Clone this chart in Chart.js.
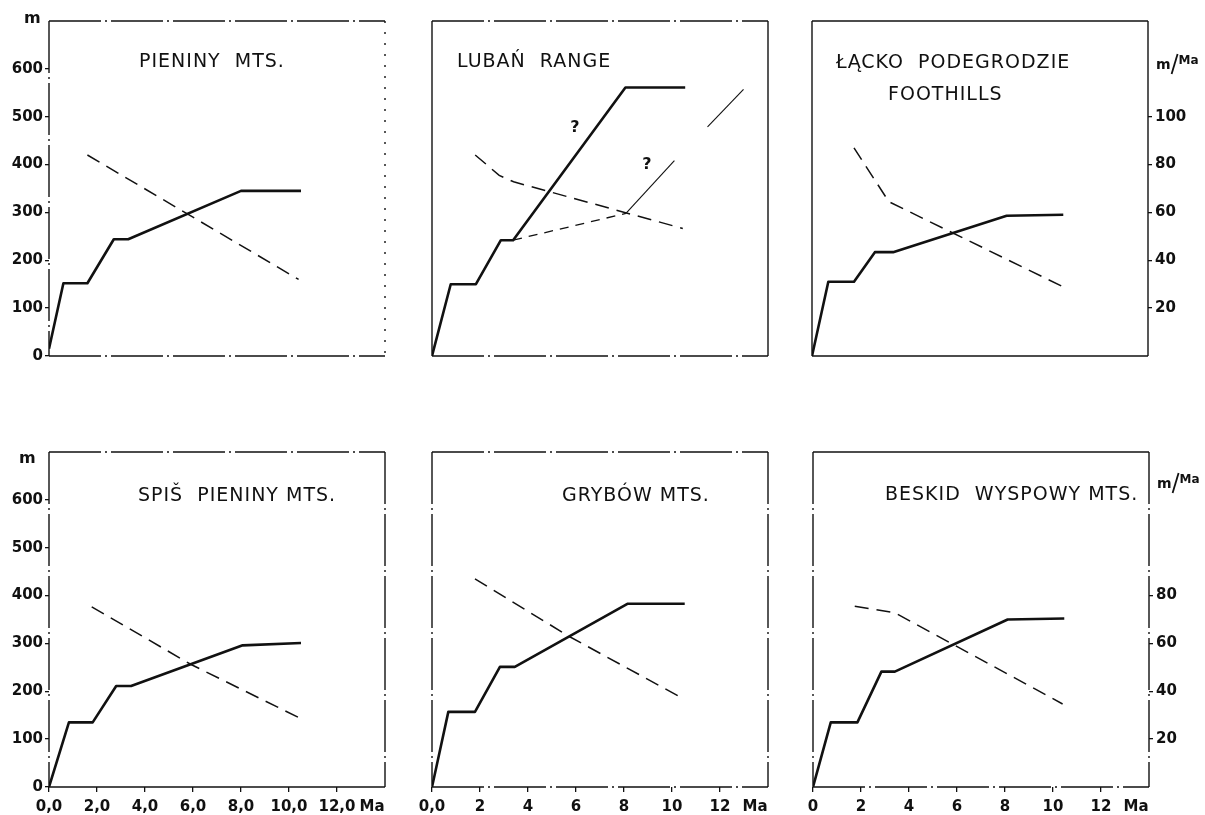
<!DOCTYPE html>
<html>
<head>
<meta charset="utf-8">
<title>Uplift and uplift rate of the Pieniny region</title>
<script src="https://cdn.jsdelivr.net/npm/chart.js@4.4.1/dist/chart.umd.min.js"></script>
<style>
  html, body { margin: 0; padding: 0; background: #fff; width: 1205px; height: 815px; overflow: hidden; }
  canvas { position: absolute; }
</style>
</head>
<body>
<canvas id="c1" width="442" height="388"></canvas>
<canvas id="c2" width="442" height="388"></canvas>
<canvas id="c3" width="442" height="388"></canvas>
<canvas id="c4" width="442" height="388"></canvas>
<canvas id="c5" width="442" height="388"></canvas>
<canvas id="c6" width="442" height="388"></canvas>
<script>
// ---- axis ticks (age in Ma, height in m, rate in m/Ma) ----
const ageTicks = [0, 2, 4, 6, 8, 10, 12];
const ageLabelsDecimal = ['0,0', '2,0', '4,0', '6,0', '8,0', '10,0', '12,0'];
const ageLabelsMixed = ['0,0', '2', '4', '6', '8', '10', '12'];
const ageLabelsInteger = ['0', '2', '4', '6', '8', '10', '12'];
const heightTicks = [0, 100, 200, 300, 400, 500, 600];
const rateTicksUpper = [20, 40, 60, 80, 100];
const rateTicksLower = [20, 40, 60, 80];

// ---- Pieniny Mts. ----
const pieninyAge = [0, 0.6, 1.6, 2.7, 3.3, 8.0, 10.5];
const pieninyHeight = [15, 152, 152, 244, 244, 345, 345];
const pieninyRateAge = [1.6, 10.4];
const pieninyRate = [84, 32];

// ---- Lubań Range ----
const lubanAge = [0, 0.78, 1.83, 2.87, 3.38, 8.06, 10.55];
const lubanHeight = [0, 150, 150, 242, 242, 561, 561];
const lubanRateAge = [1.8, 2.8, 3.4, 10.45];
const lubanRate = [84, 75.5, 72.8, 53.3];
const lubanAltAge = [3.38, 8.08];
const lubanAltHeight = [242, 298];
const lubanAltUpperAge = [8.08, 10.1, 11.48, 12.98];
const lubanAltUpperHeight = [298, 408, 479, 557];

// ---- Łącko-Podegrodzie Foothills ----
const lackoAge = [0, 0.68, 1.75, 2.62, 3.38, 8.11, 10.47];
const lackoHeight = [0, 155, 155, 217, 217, 293, 295];
const lackoRateAge = [1.75, 3.2, 10.44];
const lackoRate = [87, 64.5, 29];

// ---- Spiš Pieniny Mts. ----
const spisAge = [0, 0.83, 1.82, 2.8, 3.42, 8.07, 10.5];
const spisHeight = [0, 135, 135, 211, 211, 296, 301];
const spisRateAge = [1.78, 5.9, 10.53];
const spisRate = [75.3, 51.3, 28.4];

// ---- Grybów Mts. ----
const grybowAge = [0, 0.68, 1.79, 2.83, 3.45, 8.16, 10.53];
const grybowHeight = [0, 157, 157, 251, 251, 383, 383];
const grybowRateAge = [1.79, 5.7, 10.51];
const grybowRate = [87, 63, 36.7];

// ---- Beskid Wyspowy Mts. ----
const beskidAge = [0, 0.74, 1.85, 2.85, 3.41, 8.11, 10.47];
const beskidHeight = [0, 135, 135, 241, 241, 350, 352];
const beskidRateAge = [1.74, 3.41, 10.4];
const beskidRate = [75.5, 72.8, 34.7];

// ---- styling ----
const FONT = '"DejaVu Sans", "Liberation Sans", sans-serif';
const INK = '#111';
const SOLID = [];
const DASH_DOT = [52, 4, 2, 4];
const SPARSE = [2, 9];

function pts(xs, ys) { return xs.map((x, i) => ({ x: x, y: ys[i] })); }

const panels = [
  { canvas: 'c1', left: -1, top: -4,
    age: pieninyAge, height: pieninyHeight, rateAge: pieninyRateAge, rate: pieninyRate,
    heightLabels: true, ageLabels: null, rateTicks: null,
    titles: [{ text: 'PIENINY  MTS.', dx: 90, dy: 41 }],
    notes: [{ text: 'm', dx: -25, dy: -2 }],
    frame: { top: DASH_DOT, right: SPARSE, bottom: DASH_DOT, left: DASH_DOT } },
  { canvas: 'c2', left: 382, top: -4,
    age: lubanAge, height: lubanHeight, rateAge: lubanRateAge, rate: lubanRate,
    heightLabels: false, ageLabels: null, rateTicks: null,
    titles: [{ text: 'LUBAŃ  RANGE', dx: 25, dy: 41 }],
    notes: [{ text: '?', dx: 143, dy: 107, center: true }, { text: '?', dx: 215, dy: 144, center: true }],
    extra: true,
    frame: { top: DASH_DOT, right: SOLID, bottom: DASH_DOT, left: SOLID } },
  { canvas: 'c3', left: 762, top: -4,
    age: lackoAge, height: lackoHeight, rateAge: lackoRateAge, rate: lackoRate,
    heightLabels: false, ageLabels: null, rateTicks: rateTicksUpper,
    titles: [{ text: 'ŁĄCKO  PODEGRODZIE', dx: 24, dy: 42 }, { text: 'FOOTHILLS', dx: 76, dy: 74 }],
    notes: [], unit: { dx: 344, dy: 42 },
    frame: { top: SOLID, right: SOLID, bottom: SOLID, left: SOLID } },
  { canvas: 'c4', left: -1, top: 427,
    age: spisAge, height: spisHeight, rateAge: spisRateAge, rate: spisRate,
    heightLabels: true, ageLabels: ageLabelsDecimal, rateTicks: null,
    titles: [{ text: 'SPIŠ  PIENINY MTS.', dx: 89, dy: 44 }],
    notes: [{ text: 'm', dx: -30, dy: 7 }],
    frame: { top: DASH_DOT, right: DASH_DOT, bottom: SOLID, left: DASH_DOT } },
  { canvas: 'c5', left: 382, top: 427,
    age: grybowAge, height: grybowHeight, rateAge: grybowRateAge, rate: grybowRate,
    heightLabels: false, ageLabels: ageLabelsMixed, rateTicks: null,
    titles: [{ text: 'GRYBÓW MTS.', dx: 130, dy: 44 }],
    notes: [],
    frame: { top: DASH_DOT, right: DASH_DOT, bottom: DASH_DOT, left: DASH_DOT } },
  { canvas: 'c6', left: 763, top: 427,
    age: beskidAge, height: beskidHeight, rateAge: beskidRateAge, rate: beskidRate,
    heightLabels: false, ageLabels: ageLabelsInteger, rateTicks: rateTicksLower,
    titles: [{ text: 'BESKID  WYSPOWY MTS.', dx: 72, dy: 43 }],
    notes: [], unit: { dx: 344, dy: 30 },
    frame: { top: SOLID, right: DASH_DOT, bottom: DASH_DOT, left: DASH_DOT } }
];

// Frame, titles and annotation text drawn on top of each panel
const panelDecor = {
  id: 'panelDecor',
  afterDraw(chart, args, opts) {
    const p = opts.panel;
    const ctx = chart.ctx;
    const a = chart.chartArea;
    ctx.save();
    ctx.strokeStyle = INK;
    ctx.lineWidth = 1.4;
    const side = (dash, x1, y1, x2, y2) => {
      ctx.setLineDash(dash);
      ctx.beginPath(); ctx.moveTo(x1, y1); ctx.lineTo(x2, y2); ctx.stroke();
    };
    side(p.frame.top, a.left, a.top, a.right, a.top);
    side(p.frame.right, a.right, a.top, a.right, a.bottom);
    side(p.frame.bottom, a.left, a.bottom, a.right, a.bottom);
    side(p.frame.left, a.left, a.top, a.left, a.bottom);
    ctx.setLineDash([]);

    ctx.fillStyle = INK;
    ctx.textBaseline = 'middle';
    ctx.font = '19px ' + FONT;
    ctx.letterSpacing = '1px';
    ctx.textAlign = 'left';
    p.titles.forEach(t => ctx.fillText(t.text, a.left + t.dx, a.top + t.dy));
    ctx.letterSpacing = '0px';

    ctx.font = 'bold 16px ' + FONT;
    p.notes.forEach(n => {
      ctx.textAlign = n.center ? 'center' : 'left';
      ctx.fillText(n.text, a.left + n.dx, a.top + n.dy);
    });

    if (p.unit) {
      const x0 = a.left + p.unit.dx, y0 = a.top + p.unit.dy;
      ctx.textAlign = 'left';
      ctx.font = 'bold 14px ' + FONT;
      ctx.fillText('m', x0, y0 + 2);
      const mw = ctx.measureText('m').width;
      ctx.lineWidth = 1.8;
      ctx.beginPath(); ctx.moveTo(x0 + mw + 1, y0 + 11); ctx.lineTo(x0 + mw + 7, y0 - 9); ctx.stroke();
      ctx.font = 'bold 12px ' + FONT;
      ctx.fillText('Ma', x0 + mw + 8, y0 - 2);
    }

    if (p.ageLabels) {
      ctx.textAlign = 'center';
      ctx.font = 'bold 15px ' + FONT;
      ctx.fillText('Ma', a.left + 323, a.bottom + 20);
    }
    ctx.restore();
  }
};

function buildChart(p) {
  const datasets = [
    { data: pts(p.age, p.height), yAxisID: 'y', borderColor: INK, borderWidth: 2.6,
      pointRadius: 0, tension: 0, fill: false, borderJoinStyle: 'round' },
    { data: pts(p.rateAge, p.rate), yAxisID: 'y2', borderColor: INK, borderWidth: 1.5,
      borderDash: [14, 8], pointRadius: 0, tension: 0, fill: false }
  ];
  if (p.extra) {
    datasets.push({ data: pts(lubanAltAge, lubanAltHeight), yAxisID: 'y', borderColor: INK,
      borderWidth: 1.3, borderDash: [9, 7], pointRadius: 0, tension: 0, fill: false });
    datasets.push({ data: pts(lubanAltUpperAge, lubanAltUpperHeight), yAxisID: 'y', borderColor: INK,
      borderWidth: 1.1, pointRadius: 0, tension: 0, fill: false,
      segment: { borderColor: c => c.p0DataIndex === 1 ? 'rgba(0,0,0,0)' : INK } });
  }
  const el = document.getElementById(p.canvas);
  el.style.left = p.left + 'px';
  el.style.top = p.top + 'px';

  const tickFont = { family: FONT, size: 15, weight: 'bold' };
  return new Chart(el, {
    type: 'line',
    data: { datasets: datasets },
    options: {
      responsive: false,
      animation: false,
      events: [],
      layout: { padding: { top: 25, left: 0, right: 0, bottom: 0 } },
      plugins: { legend: { display: false }, tooltip: { enabled: false }, panelDecor: { panel: p } },
      scales: {
        x: {
          type: 'linear', min: 0, max: 14,
          afterBuildTicks: s => { s.ticks = ageTicks.map(v => ({ value: v })); },
          afterFit: s => { s.height = 28; },
          ticks: { display: !!p.ageLabels, autoSkip: false, maxRotation: 0, padding: 6,
            color: INK, font: tickFont,
            callback: (v, i) => p.ageLabels ? p.ageLabels[i] : '' },
          grid: { drawOnChartArea: false, drawTicks: true, tickLength: 5, lineWidth: 1.3,
            color: p.ageLabels ? INK : 'rgba(0,0,0,0)' },
          border: { display: false }
        },
        y: {
          position: 'left', min: 0, max: 700,
          afterBuildTicks: s => { s.ticks = heightTicks.map(v => ({ value: v })); },
          afterFit: s => { s.width = 50; },
          ticks: { display: p.heightLabels, autoSkip: false, padding: 2, color: INK, font: tickFont,
            callback: v => String(v) },
          grid: { drawOnChartArea: false, drawTicks: true, tickLength: 4, lineWidth: 1.3,
            color: p.heightLabels ? INK : 'rgba(0,0,0,0)' },
          border: { display: false }
        },
        y2: {
          position: 'right', min: 0, max: 140,
          afterBuildTicks: s => { s.ticks = (p.rateTicks || []).map(v => ({ value: v })); },
          afterFit: s => { s.width = 56; },
          ticks: { display: !!p.rateTicks, autoSkip: false, padding: 3, color: INK, font: tickFont,
            callback: v => String(v) },
          grid: { drawOnChartArea: false, drawTicks: true, tickLength: 4, lineWidth: 1.3,
            color: p.rateTicks ? INK : 'rgba(0,0,0,0)' },
          border: { display: false }
        }
      }
    },
    plugins: [panelDecor]
  });
}

panels.forEach(buildChart);
</script>
</body>
</html>
